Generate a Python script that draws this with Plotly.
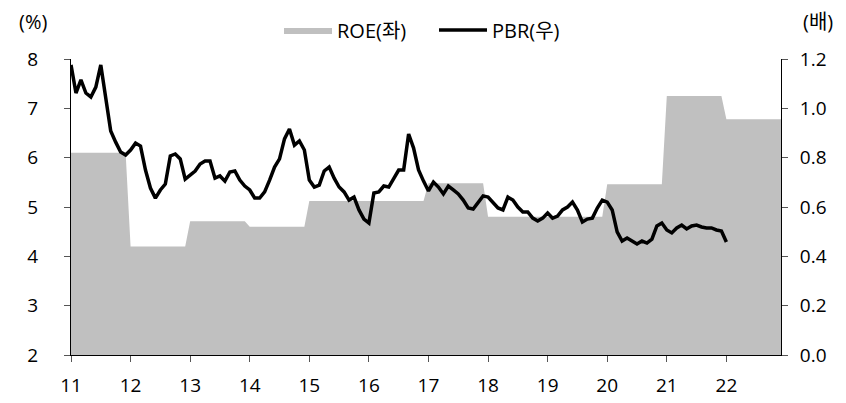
import plotly.graph_objects as go

# ---- data ----
roe_years = [11, 12, 13, 14, 15, 16, 17, 18, 19, 20, 21, 22]
roe_values = [6.1, 4.2, 4.71, 4.6, 5.12, 5.12, 5.48, 4.8, 4.8, 5.46, 7.25, 6.78]

pbr_start_year = 11  # monthly from Jan 2011 to Jan 2022
pbr_values = [
    1.176, 1.062, 1.115, 1.062, 1.046, 1.086, 1.176, 1.034, 0.908, 0.863, 0.823, 0.811,
    0.831, 0.859, 0.847, 0.750, 0.677, 0.636, 0.669, 0.693, 0.807, 0.815, 0.795, 0.713,
    0.730, 0.746, 0.774, 0.786, 0.786, 0.717, 0.726, 0.705, 0.742, 0.746, 0.709, 0.685,
    0.669, 0.636, 0.636, 0.661, 0.709, 0.762, 0.795, 0.876, 0.916, 0.851, 0.868, 0.831,
    0.709, 0.681, 0.689, 0.746, 0.762, 0.717, 0.681, 0.661, 0.628, 0.640, 0.588, 0.551,
    0.535, 0.657, 0.661, 0.685, 0.681, 0.713, 0.750, 0.750, 0.896, 0.839, 0.750, 0.705,
    0.665, 0.701, 0.681, 0.653, 0.685, 0.669, 0.653, 0.628, 0.596, 0.592, 0.616, 0.645,
    0.640, 0.616, 0.596, 0.588, 0.640, 0.628, 0.600, 0.580, 0.580, 0.555, 0.543, 0.555,
    0.576, 0.555, 0.563, 0.588, 0.600, 0.620, 0.588, 0.539, 0.551, 0.555, 0.596, 0.628,
    0.620, 0.588, 0.499, 0.462, 0.474, 0.462, 0.450, 0.462, 0.454, 0.470, 0.523, 0.535,
    0.507, 0.495, 0.515, 0.527, 0.511, 0.523, 0.527, 0.519, 0.515, 0.515, 0.507, 0.503,
    0.458,
]

x_tick_vals = [11, 12, 13, 14, 15, 16, 17, 18, 19, 20, 21, 22]
x_tick_text = ["11", "12", "13", "14", "15", "16", "17", "18", "19", "20", "21", "22"]
left_ticks = [2, 3, 4, 5, 6, 7, 8]
right_ticks = [0.0, 0.2, 0.4, 0.6, 0.8, 1.0, 1.2]

# ROE is an annual figure shown for each month of its year
roe_x, roe_y = [], []
for yr, v in zip(roe_years, roe_values):
    for m in range(12):
        roe_x.append(yr + m / 12)
        roe_y.append(v)

pbr_x = [pbr_start_year + i / 12 for i in range(len(pbr_values))]

FONT = "Open Sans, Noto Sans CJK KR"
W, H = 838, 395  # page body adds an 8px offset

fig = go.Figure()
fig.add_trace(go.Scatter(
    x=roe_x, y=roe_y, name="ROE(좌)", mode="lines",
    line=dict(width=0, color="#C0C0C0"), fill="tozeroy", fillcolor="#C0C0C0",
    yaxis="y", hoverinfo="skip",
))
fig.add_trace(go.Scatter(
    x=pbr_x, y=pbr_values, name="PBR(우)", mode="lines",
    line=dict(width=3.5, color="#000000"), yaxis="y2",
))

fig.update_layout(
    width=W, height=H,
    margin=dict(l=63, r=65, t=51, b=48, autoexpand=False),
    paper_bgcolor="white", plot_bgcolor="white",
    font=dict(family=FONT, size=19, color="#000000"),
    showlegend=True,
    legend=dict(orientation="h", x=426 / W, xanchor="center", xref="container",
                y=1 - 22 / H, yanchor="middle", yref="container",
                font=dict(size=20), itemwidth=48, entrywidth=92,
                bgcolor="rgba(0,0,0,0)"),
    xaxis=dict(range=[11, 11 + 143 / 12], tickvals=x_tick_vals, ticktext=x_tick_text,
               showgrid=False, zeroline=False, showline=True, linecolor="black", linewidth=1,
               ticks="outside", ticklen=6, tickcolor="#555555", tickfont=dict(size=19),
               ticklabelstandoff=7),
    yaxis=dict(range=[2, 8], tickvals=left_ticks, showgrid=False, zeroline=False,
               showline=True, linecolor="black", linewidth=1, ticks="outside", ticklen=6,
               tickcolor="#555555", tickfont=dict(size=19), ticklabelstandoff=22),
    yaxis2=dict(range=[0, 1.2], tickvals=right_ticks, tickformat=".1f", overlaying="y",
                side="right", showgrid=False, zeroline=False, showline=True, linecolor="black",
                linewidth=1, ticks="outside", ticklen=6, tickcolor="#555555",
                tickfont=dict(size=19), ticklabelstandoff=8),
    annotations=[
        dict(text="(%)", xref="paper", yref="paper", x=-0.054, y=1 + 38 / 296,
             xanchor="center", yanchor="middle", showarrow=False, font=dict(size=20)),
        dict(text="(배)", xref="paper", yref="paper", x=1.052, y=1 + 38 / 296,
             xanchor="center", yanchor="middle", showarrow=False, font=dict(size=20)),
    ],
)

fig.write_html("out.html")
